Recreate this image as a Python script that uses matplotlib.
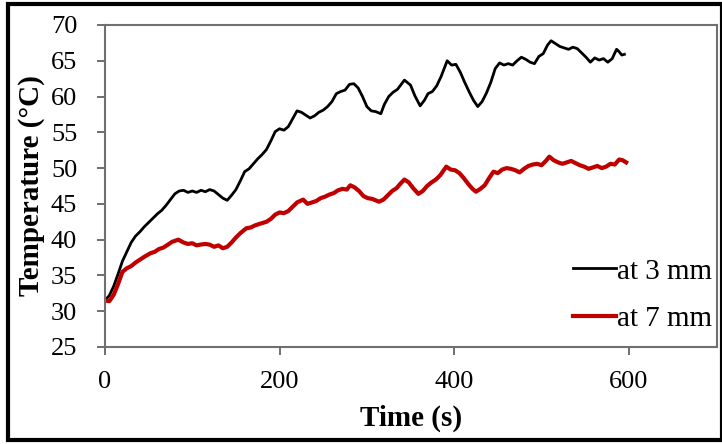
import matplotlib
matplotlib.use('Agg')
import matplotlib.pyplot as plt
from matplotlib.patches import Rectangle

# Temperature readings
t_3mm = [0, 5, 10, 15, 20, 25, 30, 35, 40, 45, 50, 55, 60, 65, 70, 75, 80, 85, 90,
         95, 100, 105, 110, 115, 120, 125, 130, 135, 140, 145, 150, 155, 160, 165,
         170, 175, 180, 185, 190, 195, 200, 205, 210, 215, 220, 225, 230, 235, 240,
         245, 250, 255, 260, 265, 270, 275, 280, 285, 290, 295, 300, 305, 310, 316,
         320, 325, 330, 335, 343, 350, 355, 361, 366, 370, 375, 380, 385, 392, 397,
         402, 407, 412, 417, 422, 427, 432, 437, 442, 447, 452, 457, 462, 467, 472,
         477, 482, 487, 492, 497, 502, 507, 511, 516, 521, 526, 531, 536, 541, 546,
         551, 556, 561, 566, 571, 576, 581, 586, 588, 592, 595]
T_3mm = [31.5, 32.2, 33.5, 35.2, 37.0, 38.3, 39.6, 40.5, 41.1, 41.8, 42.4, 43.0,
         43.6, 44.1, 44.8, 45.6, 46.4, 46.8, 46.9, 46.6, 46.8, 46.6, 46.9, 46.7,
         47.0, 46.8, 46.3, 45.8, 45.5, 46.2, 47.0, 48.2, 49.5, 49.9, 50.6, 51.3,
         51.9, 52.6, 53.8, 55.1, 55.5, 55.3, 55.8, 56.9, 58.0, 57.8, 57.4, 57.0,
         57.3, 57.8, 58.1, 58.6, 59.3, 60.4, 60.7, 60.9, 61.7, 61.8, 61.2, 60.0,
         58.6, 58.0, 57.9, 57.6, 58.9, 60.0, 60.6, 61.0, 62.3, 61.6, 60.1, 58.7,
         59.5, 60.4, 60.7, 61.5, 62.8, 65.0, 64.4, 64.5, 63.4, 62.0, 60.7, 59.5,
         58.6, 59.3, 60.5, 62.0, 63.9, 64.7, 64.4, 64.6, 64.4, 65.0, 65.5, 65.2,
         64.8, 64.6, 65.6, 66.0, 67.2, 67.8, 67.4, 67.0, 66.8, 66.6, 66.9, 66.7,
         66.1, 65.5, 64.8, 65.4, 65.1, 65.3, 64.8, 65.3, 66.6, 66.4, 65.8, 65.9]

t_7mm = [0, 5, 10, 15, 20, 25, 30, 35, 40, 45, 52, 57, 62, 67, 72, 77, 84, 90,
         95, 100, 105, 109, 115, 120, 125, 130, 135, 140, 145, 150, 155, 162, 167,
         172, 177, 185, 190, 195, 200, 205, 210, 215, 220, 227, 232, 237, 242, 247,
         252, 257, 262, 267, 272, 277, 281, 286, 291, 296, 301, 306, 314, 319, 324,
         329, 334, 339, 343, 348, 353, 359, 364, 369, 374, 379, 384, 391, 396, 401,
         406, 411, 416, 421, 425, 430, 435, 440, 445, 450, 455, 460, 465, 470, 475,
         480, 485, 490, 495, 500, 505, 509, 514, 519, 524, 529, 534, 539, 544, 549,
         554, 559, 564, 569, 574, 579, 584, 589, 593, 597]
T_7mm = [31.5, 31.4, 32.3, 33.8, 35.5, 36.0, 36.3, 36.8, 37.2, 37.6, 38.1, 38.3,
         38.7, 38.9, 39.3, 39.7, 40.0, 39.6, 39.4, 39.5, 39.2, 39.3, 39.4, 39.3,
         39.0, 39.2, 38.8, 39.0, 39.6, 40.3, 40.9, 41.6, 41.7, 42.0, 42.2, 42.5,
         42.9, 43.5, 43.8, 43.7, 44.0, 44.6, 45.2, 45.6, 45.0, 45.2, 45.4, 45.8,
         46.0, 46.3, 46.5, 46.9, 47.1, 47.0, 47.6, 47.3, 46.8, 46.1, 45.8, 45.7,
         45.3, 45.6, 46.2, 46.8, 47.2, 47.9, 48.4, 48.0, 47.2, 46.4, 46.8, 47.5,
         48.0, 48.4, 49.0, 50.2, 49.8, 49.7, 49.3, 48.6, 47.8, 47.1, 46.7, 47.1,
         47.6, 48.6, 49.5, 49.3, 49.8, 50.0, 49.9, 49.7, 49.4, 49.9, 50.3, 50.5,
         50.6, 50.4, 51.0, 51.6, 51.1, 50.8, 50.6, 50.8, 51.0, 50.7, 50.4, 50.2,
         49.9, 50.1, 50.3, 50.0, 50.2, 50.6, 50.5, 51.2, 51.1, 50.8]

x_ticks = [0, 200, 400, 600]
y_ticks = [25, 30, 35, 40, 45, 50, 55, 60, 65, 70]

plt.rcParams['font.family'] = ['Liberation Serif', 'DejaVu Serif']

fig = plt.figure(figsize=(7.22, 4.44), dpi=100)
ax = fig.add_axes([0.1454, 0.2185, 0.8476, 0.7252])

# Frame around the whole picture
fig.patches.append(Rectangle((0.011, 0.008), 0.989, 0.982, transform=fig.transFigure,
                             fill=False, edgecolor='black', linewidth=3))

ax.plot(t_3mm, T_3mm, color='black', linewidth=2, label='at 3 mm')
ax.plot(t_7mm, T_7mm, color='#c00000', linewidth=3, label='at 7 mm')

ax.set_xlim(0, 701)
ax.set_ylim(25, 70)
ax.set_xticks(x_ticks)
ax.set_yticks(y_ticks)
ax.tick_params(labelsize=19, color='#555555', length=6, width=1.2)
ax.tick_params(axis='x', pad=11)
ax.tick_params(axis='y', pad=14)
for s in ax.spines.values():
    s.set_color('#707070')
    s.set_linewidth(1.5)

ax.set_xlabel('Time (s)', fontsize=21, fontweight='bold', labelpad=9)
ax.set_ylabel('Temperature (°C)', fontsize=21, fontweight='bold', labelpad=4)

ax.legend(loc='lower right', frameon=False, fontsize=21, handlelength=1.45,
          handletextpad=0.05, borderaxespad=0.0, labelspacing=0.72,
          bbox_to_anchor=(1.011, 0.01))

fig.savefig('out.png', dpi=100)
